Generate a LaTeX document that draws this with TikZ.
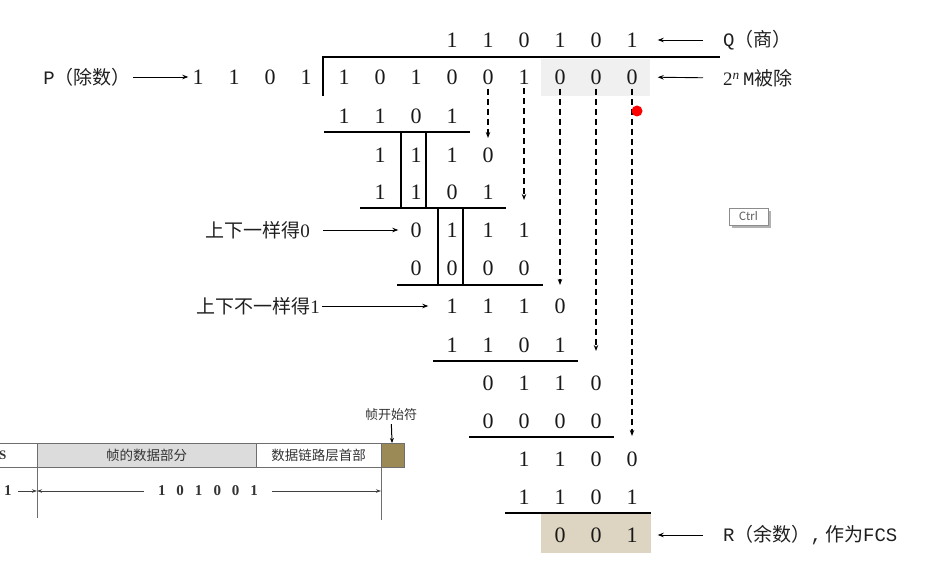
\documentclass[tikz,border=0pt]{standalone}
\usepackage{fontspec}
\setmainfont{Liberation Serif}
\setmonofont{Liberation Mono}
\newfontfamily\cjk{Noto Sans CJK SC}
\newfontfamily\uifont{Carlito}
\usetikzlibrary{arrows.meta}
\definecolor{hlgray}{HTML}{F0F0F0}
\definecolor{remtan}{HTML}{DDD5C1}
\definecolor{sofbrown}{HTML}{9B8A55}
\definecolor{datagray}{HTML}{DCDCDC}
\definecolor{linegray}{HTML}{6E6E6E}

\begin{document}
\begin{tikzpicture}[x=1pt,y=-1pt]
\tikzstyle{bit} = [inner sep=0pt, text=black!90, font=\fontsize{22}{22}\selectfont]
\tikzstyle{lbl} = [inner sep=0pt, text=black!88, font=\fontsize{19}{19}\selectfont]
\tikzstyle{arrow} = [line width=0.9pt, -{Stealth[length=6pt,width=4.5pt]}]
\tikzstyle{drop} = [arrow, line width=1.2pt, dash pattern=on 6pt off 4pt]
\tikzstyle{dim} = [line width=0.7pt, black!75, -{Stealth[length=5pt,width=3.5pt]}]
\tikzstyle{rule} = [line width=1.8pt]
\tikzstyle{split} = [line width=1.3pt]
\tikzstyle{cell} = [draw=linegray, line width=0.9pt, inner sep=0pt, outer sep=0pt, minimum height=24pt, anchor=north west, text=black!80, font=\cjk\fontsize{13.5}{13.5}\selectfont]

\useasboundingbox (0,0) rectangle (926,580);
\clip (0,0) rectangle (926,580);

\fill[hlgray] (541,59) rectangle (650,96);
\fill[remtan] (541,514) rectangle (651,553);

\foreach \bit [count=\i from 3] in {1,1,0,1,0,1}
  \node[bit] (q\i) at (344+36*\i,40) {\bit};
\foreach \bit [count=\i from 0] in {1,0,1,0,0,1,0,0,0}
  \node[bit] (d\i) at (344+36*\i,77) {\bit};
\foreach \bit [count=\i from 0] in {1,1,0,1}
  \node[bit] (p\i) at (198+36*\i,77) {\bit};
\foreach \row/\ya/\first/\bits in {1/116/0/{1,1,0,1}, 2/155/1/{1,1,1,0}, 3/192/1/{1,1,0,1},
    4/230/2/{0,1,1,1}, 5/268/2/{0,0,0,0}, 6/306/3/{1,1,1,0}, 7/345/3/{1,1,0,1},
    8/383/4/{0,1,1,0}, 9/421/4/{0,0,0,0}, 10/459/5/{1,1,0,0}, 11/497/5/{1,1,0,1},
    12/535/6/{0,0,1}}
  \foreach \bit [count=\i from \first] in \bits
    \node[bit] (r\row-\i) at (344+36*\i,\ya) {\bit};

\draw[rule] (323,57) -- (720,57);
\draw[rule] (323,56) -- (323,96);
\foreach \ya/\xa/\xb in {132/324/470, 208/360/506, 285/397/543, 361/433/578, 437/469/614, 513/505/651}
  \draw[rule] (\xa,\ya) -- (\xb,\ya);
\draw[split] (401,132) -- (401,208) (426,132) -- (426,208);
\draw[split] (438,208) -- (438,285) (463,208) -- (463,285);

\node[lbl, anchor=east] (divisor) at (131,77) {{\ttfamily P}{\cjk （除数）}};
\node[lbl, anchor=west] (quot) at (723,40) {{\ttfamily Q}{\cjk （商）}};
\node[lbl, anchor=west] (dividend) at (723,78) {2\textsuperscript{\itshape n}\,{\ttfamily M}{\cjk 被除}};
\node[lbl, anchor=east] (same) at (310,230) {{\cjk 上下一样得}0};
\node[lbl, anchor=east] (diff) at (320,306) {{\cjk 上下不一样得}1};
\node[lbl, anchor=west] (rem) at (723,535) {{\ttfamily R}{\cjk （余数）}{\ttfamily ,\,}{\cjk 作为}{\ttfamily FCS}};

\draw[arrow, shorten <=2pt, shorten >=4pt] (divisor) -- (p0);
\draw[arrow, shorten <=20pt, shorten >=20pt] (quot.west) -- (q8.east);
\draw[arrow, shorten <=20pt, shorten >=20pt] (dividend.west) -- (d8.east);
\draw[arrow, shorten <=13pt, shorten >=12pt] (same.east) -- (r4-2.west);
\draw[arrow, shorten <=2pt, shorten >=18pt] (diff.east) -- (r6-3.west);
\draw[arrow, shorten <=20pt, shorten >=20pt] (rem.west) -- (r12-8.east);

\coordinate (t4) at (488,138);
\coordinate (t5) at (524,200);
\coordinate (t6) at (560,285);
\coordinate (t7) at (596,351);
\coordinate (t8) at (632,436);
\foreach \i in {4,...,8}
  \draw[drop, shorten <=4pt] (d\i.south) -- (t\i);

\node[circle, fill=red, minimum size=11pt, inner sep=0pt] (dot) at (637,111) {};

\fill[black!30] (732,211) rectangle (771,228);
\node[draw=black!45, fill=white, line width=0.8pt, minimum width=39pt, minimum height=17pt, inner sep=0pt, text=black!60, font=\uifont\fontsize{13}{13}\selectfont] (ctrl) at (748.5,216.5) {Ctrl};

\node[cell, minimum width=100pt] (fcs) at (-63,443) {};
\node[cell, fill=datagray, minimum width=219pt] (data) at (37,443) {帧的数据部分};
\node[cell, minimum width=125pt] (head) at (256,443) {数据链路层首部};
\node[cell, fill=sofbrown, minimum width=23pt] (sof) at (381,443) {};
\node[inner sep=0pt, text=black!80, font=\bfseries\fontsize{13}{13}\selectfont] (fcstxt) at (-6,455) {FCS};
\node[inner sep=0pt, text=black!80, font=\cjk\fontsize{13}{13}\selectfont] (soflab) at (391,415) {帧开始符};
\draw[line width=1pt, -{Stealth[length=5pt,width=4pt]}, shorten <=3pt] (soflab) -- (sof);

\coordinate (lb) at (37,518);
\coordinate (rb) at (381,520);
\draw[line width=0.9pt, linegray] (data.south west) -- (lb);
\draw[line width=0.9pt, linegray] (sof.south west) -- (rb);

\node[inner sep=0pt, text=black!80, font=\bfseries\fontsize{15}{15}\selectfont] (len) at (208,491) {1\hspace{11pt}0\hspace{11pt}1\hspace{11pt}0\hspace{11pt}0\hspace{11pt}1};
\node[inner sep=0pt, text=black!80, font=\bfseries\fontsize{15}{15}\selectfont] (lead) at (8,491) {1};
\draw[dim, shorten <=14pt] (len.west) -- (lb |- len);
\draw[dim, shorten <=14pt] (len.east) -- (rb |- len);
\draw[dim, shorten <=6pt] (lead.east) -- (lb |- lead);
\end{tikzpicture}
\end{document}
